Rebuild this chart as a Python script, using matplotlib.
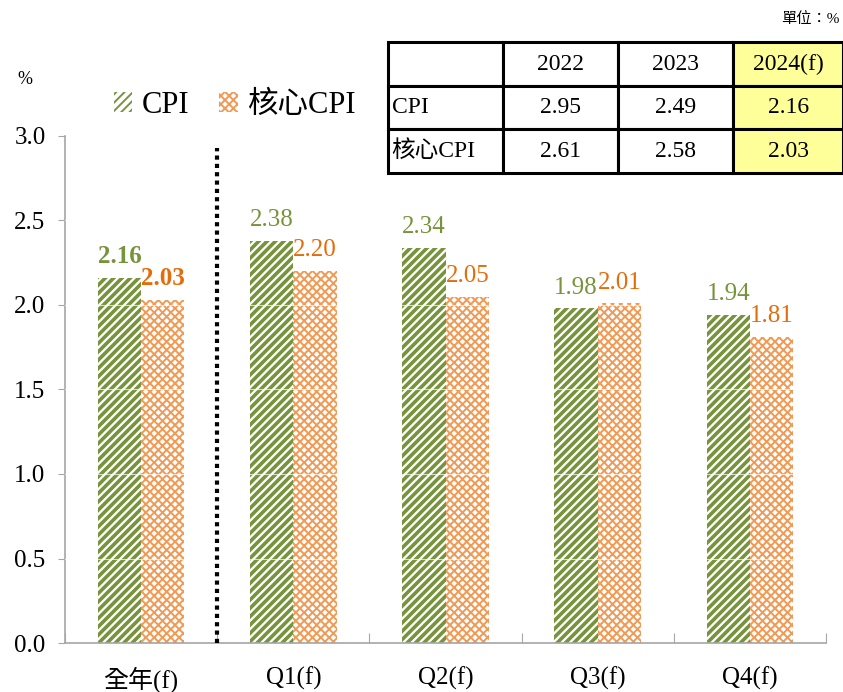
import numpy as np
import matplotlib
matplotlib.use("Agg")
from matplotlib import pyplot as plt

plt.rcParams['font.family'] = ['Liberation Serif', 'Noto Sans CJK TC', 'DejaVu Sans']

# forecast data
cats = ['全年(f)', 'Q1(f)', 'Q2(f)', 'Q3(f)', 'Q4(f)']
cpi = [2.16, 2.38, 2.34, 1.98, 1.94]
core = [2.03, 2.20, 2.05, 2.01, 1.81]

# table on top right
tbl_cols = ['', '2022', '2023', '2024(f)']
tbl_rows = [['CPI', '2.95', '2.49', '2.16'],
            ['核心CPI', '2.61', '2.58', '2.03']]

green = '#77933C'
orange = '#E46C0A'

fig = plt.figure(figsize=(8.43, 6.92), dpi=100)
ax = fig.add_axes([0.0771, 0.0708, 0.9029, 0.7327])

x = np.arange(len(cats))
w = 0.285

plt.rcParams['hatch.linewidth'] = 2.6
b1 = ax.bar(x - w / 2, cpi, w, color='white', edgecolor=green, hatch='////',
            linewidth=0, label='CPI', zorder=2)
plt.rcParams['hatch.linewidth'] = 1.4
b2 = ax.bar(x + w / 2, core, w, color='white', edgecolor='#F09A55', hatch='xxxx',
            linewidth=0, label='核心CPI', zorder=2)

# faint seams across the bars
for yv in np.arange(0.5, 3.0, 0.5):
    ax.axhline(yv, color='white', lw=0.8, alpha=0.7, zorder=3)

# value labels
for i in range(len(cats)):
    fw = 'bold' if i == 0 else 'normal'
    ax.annotate(f'{cpi[i]:.2f}', (x[i] - w / 2, cpi[i]), xytext=(0, 7),
                textcoords='offset points', ha='center', va='bottom',
                fontsize=18, color=green, fontweight=fw)
    ax.annotate(f'{core[i]:.2f}', (x[i] + w / 2, core[i]), xytext=(0, 7),
                textcoords='offset points', ha='center', va='bottom',
                fontsize=18, color=orange, fontweight=fw)

# separator between annual and quarterly
ax.plot([0.5, 0.5], [0, 2.93], color='black', lw=3, linestyle=(0, (1, 1)),
        zorder=4)

ax.set_xlim(-0.5, 4.5)
ax.set_ylim(0, 3.0)
ax.set_yticks(np.arange(0, 3.01, 0.5))
ax.set_yticklabels([f'{v:.1f}' for v in np.arange(0, 3.01, 0.5)], fontsize=18)
ax.set_xticks(np.arange(-0.5, 4.6, 1.0))
ax.set_xticklabels([])
ax.set_xticks(x, minor=True)
ax.set_xticklabels(cats, minor=True, fontsize=18)
ax.tick_params(axis='x', which='major', direction='in', length=7, color='#A6A6A6')
ax.tick_params(axis='x', which='minor', length=0, pad=17)
ax.tick_params(axis='y', direction='out', length=5, color='#A6A6A6', pad=9)

for s in ['top', 'right']:
    ax.spines[s].set_visible(False)
for s in ['left', 'bottom']:
    ax.spines[s].set_color('#A6A6A6')
    ax.spines[s].set_linewidth(1.2)

fig.text(0.03, 0.885, '%', fontsize=13, ha='center', va='center')

leg = fig.legend(handles=[b1, b2], loc='center left',
                 bbox_to_anchor=(0.135, 0.848), ncol=2, frameon=False,
                 fontsize=22, handlelength=0.6, handleheight=0.6,
                 handletextpad=0.3, columnspacing=1.0, borderpad=0,
                 borderaxespad=0)

fig.text(0.996, 0.973, '單位：%', fontsize=11, ha='right', va='center')

# summary table
tax = fig.add_axes([0.4603, 0.750, 0.5397, 0.189])
tax.axis('off')
cells = [tbl_cols] + [[''] + r[1:] for r in tbl_rows]
tb = tax.table(cellText=cells, bbox=[0, 0, 1, 1],
               colWidths=[0.253, 0.253, 0.253, 0.241], cellLoc='center')
tb.auto_set_font_size(False)
for (r, c), cell in tb.get_celld().items():
    cell.set_linewidth(2.2)
    cell.set_edgecolor('black')
    cell.get_text().set_fontsize(17)
    if c == 3:
        cell.set_facecolor('#FFFF99')
# row names sit at the left edge of their cells
for k, row in enumerate(tbl_rows):
    tax.text(0.008, 1 - (k + 1.5) / 3, row[0], fontsize=17,
             ha='left', va='center', transform=tax.transAxes)

fig.savefig('out.png', dpi=100)
